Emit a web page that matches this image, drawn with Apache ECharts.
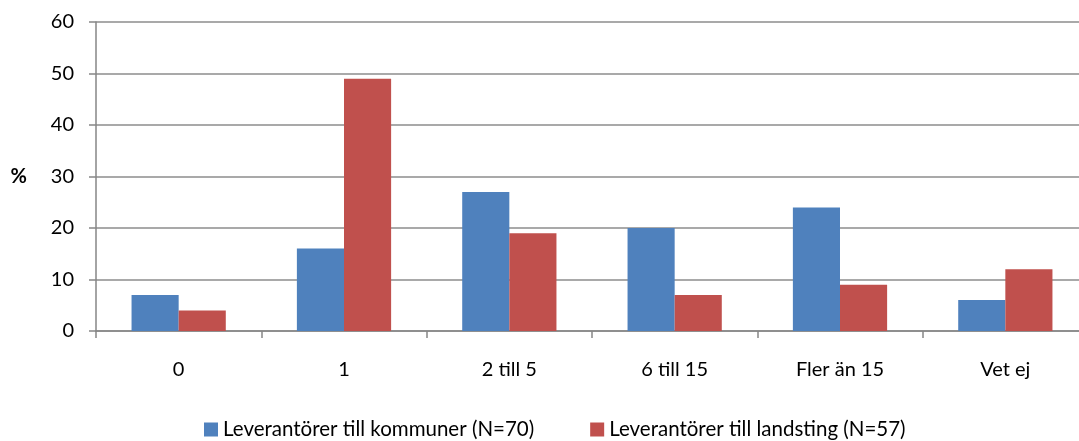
<!DOCTYPE html>
<html>
<head>
<meta charset="utf-8">
<script src="https://cdn.jsdelivr.net/npm/echarts@6/dist/echarts.min.js"></script>
<style>
  html, body { margin: 0; padding: 0; background: #fff; overflow: hidden; }
  #chart { width: 1090px; height: 441px; }
</style>
</head>
<body>
<div id="chart"></div>
<script>
// kategorier och värden (%)
const categories = ["0", "1", "2 till 5", "6 till 15", "Fler än 15", "Vet ej"];
const kommuner = [7, 16, 27, 20, 24, 6];
const landsting = [4, 49, 19, 7, 9, 12];
const seriesNames = ["Leverantörer till kommuner (N=70)", "Leverantörer till landsting (N=57)"];
const yTicks = { min: 0, max: 60, interval: 10 };

const font = "Lato, 'Open Sans', sans-serif";
const axisGray = "#868686";

// diagrammet är bredare än fönstret; högra kanten beskärs som i originalet
const chart = echarts.init(document.getElementById("chart"));
chart.setOption({
  animation: false,
  textStyle: { fontFamily: font },
  grid: {
    left: 96,
    top: 22,
    bottom: 110,
    width: 992,
    containLabel: false,
  },
  legend: {
    left: 199,
    top: 414,
    itemWidth: 14,
    itemHeight: 14,
    itemGap: 56,
    itemTextGap: 4,
    icon: "rect",
    textStyle: { color: "#000", fontSize: 20.5, fontFamily: font },
    data: seriesNames,
  },
  xAxis: {
    type: "category",
    data: categories,
    axisLine: { lineStyle: { color: axisGray, width: 1.5 } },
    axisTick: { show: true, length: 7, lineStyle: { color: axisGray, width: 1.5 } },
    axisLabel: { color: "#000", fontSize: 20, margin: 29, fontFamily: font },
    splitLine: { show: false },
  },
  yAxis: {
    type: "value",
    min: yTicks.min,
    max: yTicks.max,
    interval: yTicks.interval,
    name: "%",
    nameLocation: "middle",
    nameRotate: 0,
    nameGap: 69,
    nameTextStyle: { color: "#000", fontSize: 20, fontWeight: "bold", fontFamily: font },
    axisLine: { show: true, lineStyle: { color: axisGray, width: 1.5 } },
    axisTick: { show: true, length: 7, lineStyle: { color: axisGray, width: 1.5 } },
    axisLabel: { color: "#000", fontSize: 20, margin: 22, fontFamily: font },
    splitLine: { show: true, lineStyle: { color: "#8c8c8c", width: 1.5 } },
  },
  series: [
    {
      name: seriesNames[0],
      type: "bar",
      data: kommuner,
      barGap: "0%",
      barCategoryGap: "43%",
      itemStyle: { color: "#4F81BD" },
    },
    {
      name: seriesNames[1],
      type: "bar",
      data: landsting,
      barGap: "0%",
      barCategoryGap: "43%",
      itemStyle: { color: "#C0504D" },
    },
  ],
});
</script>
</body>
</html>
